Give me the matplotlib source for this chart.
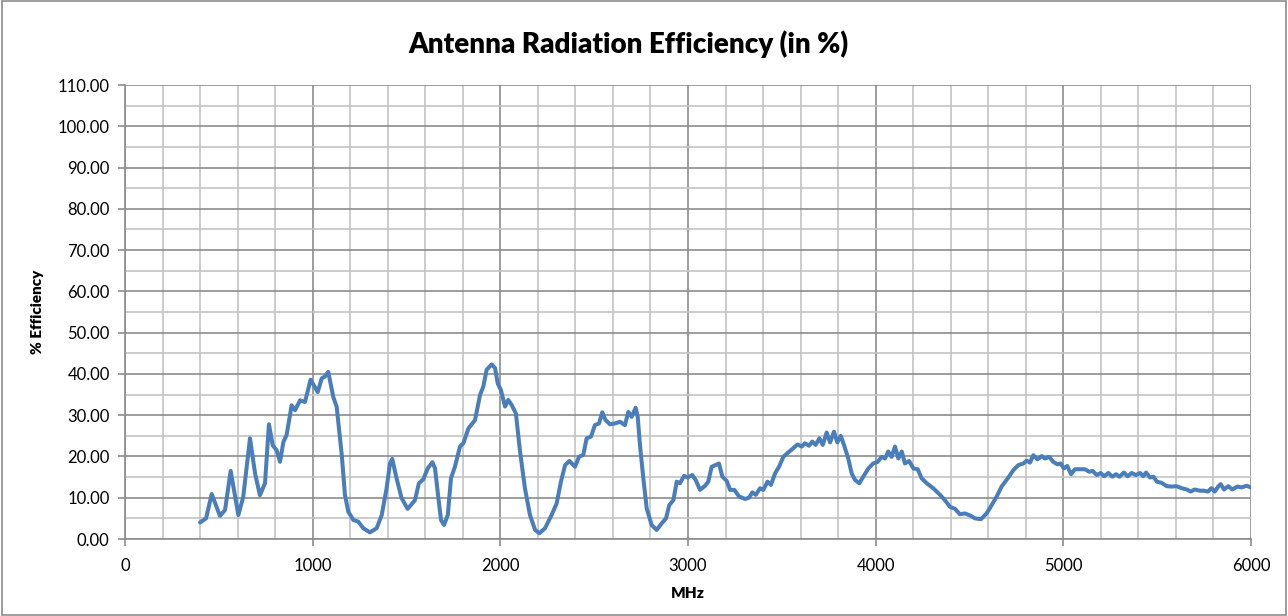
import numpy as np
import matplotlib.pyplot as plt
from matplotlib.patches import Rectangle
from matplotlib.ticker import MultipleLocator, FormatStrFormatter

# ==========================================
# Data
# ==========================================
freq_mhz = [
    400, 432, 462, 506, 533, 563, 604, 630, 666, 693, 719, 746, 767, 787, 808,
    826, 844, 861, 888, 906, 933, 959, 989, 1027, 1048, 1066, 1083, 1110, 1128,
    1155, 1172, 1190, 1217, 1243, 1270, 1305, 1341, 1368, 1394, 1412, 1424,
    1447, 1474, 1506, 1545, 1566, 1590, 1613, 1638, 1652, 1670, 1684, 1700,
    1720, 1737, 1758, 1785, 1803, 1830, 1865, 1892, 1909, 1927, 1954, 1972,
    1986, 2003, 2025, 2042, 2060, 2083, 2105, 2131, 2158, 2185, 2208, 2238,
    2273, 2300, 2323, 2345, 2368, 2398, 2419, 2442, 2460, 2483, 2504, 2526,
    2543, 2561, 2584, 2611, 2638, 2664, 2682, 2700, 2721, 2732, 2744, 2762,
    2780, 2806, 2833, 2860, 2883, 2900, 2922, 2940, 2957, 2979, 2998, 3023,
    3041, 3064, 3091, 3108, 3126, 3147, 3165, 3183, 3206, 3224, 3247, 3272,
    3304, 3325, 3343, 3361, 3384, 3401, 3424, 3442, 3464, 3485, 3508, 3535,
    3561, 3583, 3606, 3623, 3645, 3662, 3680, 3700, 3718, 3739, 3757, 3778,
    3796, 3814, 3831, 3854, 3872, 3890, 3913, 3934, 3961, 3987, 4011, 4032,
    4050, 4067, 4085, 4103, 4121, 4139, 4156, 4178, 4201, 4224, 4245, 4272,
    4307, 4343, 4369, 4396, 4423, 4449, 4476, 4503, 4529, 4561, 4591, 4618,
    4645, 4671, 4707, 4734, 4760, 4787, 4805, 4822, 4840, 4862, 4885, 4902,
    4925, 4946, 4968, 4986, 5003, 5021, 5041, 5062, 5089, 5115, 5138, 5156,
    5178, 5199, 5217, 5240, 5261, 5281, 5299, 5323, 5343, 5364, 5387, 5409,
    5426, 5441, 5462, 5480, 5498, 5524, 5551, 5578, 5604, 5631, 5657, 5679,
    5700, 5727, 5748, 5771, 5789, 5807, 5825, 5838, 5856, 5879, 5900, 5927,
    5950, 5977, 5998,
]
efficiency = [
    4.0, 5.0, 10.9, 5.6, 7.0, 16.5, 5.8, 10.2, 24.4, 15.9, 10.6, 13.5, 27.8,
    22.7, 21.5, 18.7, 23.5, 25.2, 32.4, 31.2, 33.6, 33.2, 38.6, 35.6, 38.9,
    39.4, 40.5, 34.4, 32.0, 20.4, 10.7, 6.6, 4.6, 4.2, 2.6, 1.6, 2.6, 5.8,
    12.3, 18.3, 19.4, 14.7, 9.9, 7.3, 9.4, 13.5, 14.5, 17.1, 18.6, 17.1, 9.9,
    4.6, 3.4, 5.8, 14.7, 17.5, 22.4, 23.2, 26.8, 28.8, 34.9, 36.9, 41.0, 42.3,
    41.4, 37.7, 36.1, 32.1, 33.7, 32.5, 30.4, 21.2, 12.3, 5.8, 2.2, 1.4, 2.6,
    5.8, 8.6, 13.9, 17.9, 18.9, 17.5, 19.9, 20.4, 24.4, 24.8, 27.6, 28.0,
    30.7, 28.8, 27.8, 28.0, 28.4, 27.6, 30.8, 29.6, 31.8, 29.6, 22.8, 14.7,
    7.4, 3.4, 2.2, 3.8, 5.0, 8.2, 9.4, 13.9, 13.5, 15.3, 14.9, 15.5, 14.3,
    11.9, 12.9, 13.9, 17.5, 17.9, 18.3, 15.1, 14.1, 11.9, 11.9, 10.3, 9.7,
    10.0, 11.3, 10.7, 12.3, 11.9, 13.9, 13.1, 15.9, 17.5, 19.9, 21.0, 22.0,
    22.9, 22.4, 23.2, 22.6, 23.6, 22.8, 24.4, 22.8, 25.8, 23.4, 26.0, 23.4,
    25.0, 22.8, 19.5, 15.9, 14.3, 13.5, 15.1, 17.1, 18.3, 18.7, 19.9, 19.5,
    21.2, 19.9, 22.4, 19.5, 21.2, 18.3, 18.9, 17.1, 16.9, 14.7, 13.5, 12.3,
    10.7, 9.4, 7.8, 7.3, 6.0, 6.2, 5.7, 5.0, 4.8, 6.2, 8.2, 10.3, 12.7, 14.9,
    16.7, 17.9, 18.3, 19.0, 18.5, 20.3, 19.3, 20.1, 19.5, 19.9, 18.7, 18.1,
    18.3, 17.1, 17.7, 15.7, 16.9, 16.9, 16.9, 16.3, 16.5, 15.5, 16.0, 15.2,
    16.0, 15.1, 15.7, 15.1, 16.1, 15.2, 16.0, 15.5, 16.0, 15.2, 16.1, 14.9,
    15.1, 13.9, 13.6, 12.8, 12.7, 12.8, 12.3, 12.0, 11.5, 12.0, 11.7, 11.7,
    11.5, 12.3, 11.5, 12.7, 13.3, 12.0, 12.8, 12.0, 12.7, 12.5, 12.9, 12.5,
]

y_ticks = np.arange(0, 111, 10)
x_ticks = np.arange(0, 6001, 1000)

# ==========================================
# Style
# ==========================================
plt.rcParams['font.family'] = ['Lato', 'DejaVu Sans']
line_color = "#4a7ebb"
minor_grid = "#c4c4c4"
major_grid = "#8c8c8c"

fig = plt.figure(figsize=(12.88, 6.16), dpi=100)
ax = fig.add_axes([125 / 1288, 1 - 539 / 616, 1126 / 1288, 454 / 616])

ax.plot(freq_mhz, efficiency, color=line_color, linewidth=2.9,
        solid_joinstyle='round', solid_capstyle='round', zorder=3)

ax.set_xlim(0, 6000)
ax.set_ylim(0, 110)
ax.set_xticks(x_ticks)
ax.set_yticks(y_ticks)
ax.xaxis.set_minor_locator(MultipleLocator(200))
ax.yaxis.set_minor_locator(MultipleLocator(5))
ax.yaxis.set_major_formatter(FormatStrFormatter('%.2f'))

ax.grid(which='minor', color=minor_grid, linewidth=1.2, zorder=0)
ax.grid(which='major', color=major_grid, linewidth=1.2, zorder=1)
ax.set_axisbelow(True)

for side in ['top', 'right']:
    ax.spines[side].set_visible(False)
for side in ['left', 'bottom']:
    ax.spines[side].set_color(major_grid)
    ax.spines[side].set_linewidth(1.2)

ax.tick_params(which='major', length=5, width=1.2, color=major_grid,
               labelsize=12, labelcolor='black')
ax.tick_params(axis='x', which='major', pad=9)
ax.tick_params(axis='y', which='major', pad=6)
ax.tick_params(which='minor', length=0)

ax.set_xlabel("MHz", fontsize=11, fontweight='heavy', labelpad=9)
ax.set_ylabel("% Efficiency", fontsize=11, fontweight='heavy', labelpad=10)

fig.text(628 / 1288, 1 - 44 / 616, "Antenna Radiation Efficiency (in %)",
         ha='center', va='center', fontsize=20, fontweight='heavy')

# chart border
fig.patches.append(Rectangle((0.0015, 0.002), 0.997, 0.996, transform=fig.transFigure,
                             fill=False, edgecolor='#8c8c8c', linewidth=1.2))

plt.savefig("out.png", dpi=100)
